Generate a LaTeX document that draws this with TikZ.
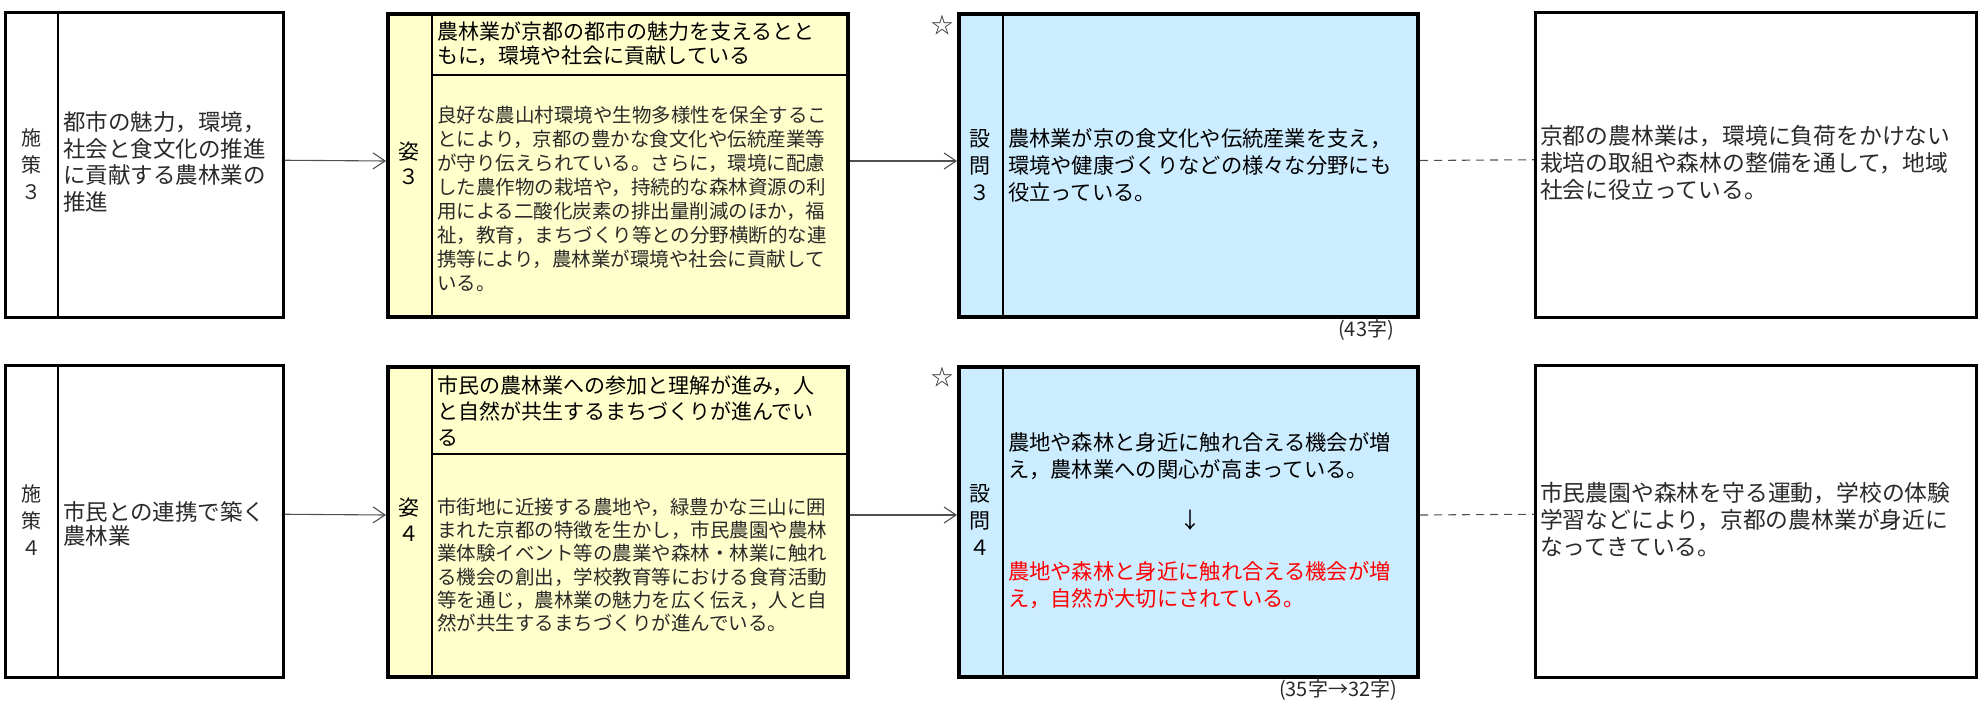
\documentclass[tikz,border=0pt]{standalone}
\usepackage{fontspec}
\setmainfont{Noto Sans CJK JP}
\usetikzlibrary{arrows.meta}
\definecolor{paleyellow}{HTML}{FFFFCC}
\definecolor{paleblue}{HTML}{CCECFF}
\definecolor{minchogray}{HTML}{2A2A2A}
\definecolor{conncol}{HTML}{505050}
\definecolor{redtext}{HTML}{FF0000}
\tikzset{
  thinbox/.style={draw=black, line width=2.5pt, inner sep=0pt, anchor=north west},
  thickbox/.style={draw=black, line width=4pt, inner sep=0pt, anchor=north west},
  divider/.style={draw=black, line width=2.5pt},
  conarrow/.style={draw=conncol, line width=1.1pt, -{Straight Barb[length=12pt,width=16pt,line width=1.1pt]}},
  condash/.style={draw=conncol, line width=1.1pt, dash pattern=on 8pt off 6pt},
  txt/.style={inner sep=0pt, outer sep=0pt, align=left, anchor=west},
  ctxt/.style={inner sep=0pt, outer sep=0pt, align=center, anchor=center},
  mincho/.style={text=minchogray},
  fs/.style 2 args={font={\fontsize{#1pt}{#2pt}\selectfont}},
}
\begin{document}
\begin{tikzpicture}[x=1pt, y=-1pt]
\useasboundingbox (0,0) rectangle (1978,704);

% ===================== Row 1 =====================
\node[thinbox, minimum width=278pt, minimum height=305pt] (pol3) at (4,11) {};
\draw[divider] ([xshift=54pt]pol3.north west) -- ([xshift=54pt]pol3.south west);
\node[ctxt, mincho, fs={20}{27}] (pol3lab) at (31,164) {施\\策\\３};
\node[txt, mincho, fs={22.5}{26.5}] (pol3txt) at (63,162) {都市の魅力，環境，\\社会と食文化の推進\\に貢献する農林業の\\推進};

\node[thickbox, fill=paleyellow, minimum width=460pt, minimum height=303pt] (vis3) at (386,12) {};
\draw[divider] ([xshift=46pt]vis3.north west) -- ([xshift=46pt]vis3.south west);
\draw[divider] ([xshift=46pt,yshift=-63pt]vis3.north west) -- ([yshift=-63pt]vis3.north east);
\node[ctxt, fs={21}{25}] (vis3lab) at (409,163) {姿\\３};
\node[txt, fs={21}{23.5}] (vis3head) at (437,43.5) {農林業が京都の都市の魅力を支えるとと\\もに，環境や社会に貢献している};
\node[txt, mincho, fs={19.5}{24}] (vis3body) at (437,199) {良好な農山村環境や生物多様性を保全するこ\\とにより，京都の豊かな食文化や伝統産業等\\が守り伝えられている。さらに，環境に配慮\\した農作物の栽培や，持続的な森林資源の利\\用による二酸化炭素の排出量削減のほか，福\\祉，教育，まちづくり等との分野横断的な連\\携等により，農林業が環境や社会に貢献して\\いる。};

\node[thickbox, fill=paleblue, minimum width=459pt, minimum height=303pt] (q3) at (957,12) {};
\draw[divider] ([xshift=46pt]q3.north west) -- ([xshift=46pt]q3.south west);
\node[ctxt, fs={21}{27}] (q3lab) at (980,165) {設\\問\\３};
\node[txt, fs={21.3}{27}] (q3txt) at (1008,165) {農林業が京の食文化や伝統産業を支え，\\環境や健康づくりなどの様々な分野にも\\役立っている。};
\node[ctxt, mincho, fs={22}{24}] (star3) at (942,25) {☆};
\node[ctxt, mincho, fs={20}{22}] (cnt3) at (1366,330) {(43字)};

\node[thinbox, minimum width=441pt, minimum height=305pt] (res3) at (1534,11) {};
\node[txt, mincho, fs={22.8}{27}] (res3txt) at (1540,163) {京都の農林業は，環境に負荷をかけない\\栽培の取組や森林の整備を通して，地域\\社会に役立っている。};

\draw[conarrow] ([yshift=4.5pt]pol3.east) -- ([yshift=4.5pt]vis3.west);
\draw[conarrow] ([yshift=4.5pt]vis3.east) -- ([yshift=4.5pt]q3.west);
\draw[condash] ([yshift=5pt]q3.east) -- ([yshift=5pt]res3.west);

% ===================== Row 2 =====================
\node[thinbox, minimum width=278pt, minimum height=312pt] (pol4) at (4,364) {};
\draw[divider] ([xshift=54pt]pol4.north west) -- ([xshift=54pt]pol4.south west);
\node[ctxt, mincho, fs={20}{27}] (pol4lab) at (31,520) {施\\策\\４};
\node[txt, mincho, fs={22.5}{24}] (pol4txt) at (63,524) {市民との連携で築く\\農林業};

\node[thickbox, fill=paleyellow, minimum width=460pt, minimum height=310pt] (vis4) at (386,365) {};
\draw[divider] ([xshift=46pt]vis4.north west) -- ([xshift=46pt]vis4.south west);
\draw[divider] ([xshift=46pt,yshift=-89pt]vis4.north west) -- ([yshift=-89pt]vis4.north east);
\node[ctxt, fs={21}{26}] (vis4lab) at (409,520) {姿\\４};
\node[txt, fs={21}{26}] (vis4head) at (437,411) {市民の農林業への参加と理解が進み，人\\と自然が共生するまちづくりが進んでい\\る};
\node[txt, mincho, fs={19.5}{23.3}] (vis4body) at (437,565) {市街地に近接する農地や，緑豊かな三山に囲\\まれた京都の特徴を生かし，市民農園や農林\\業体験イベント等の農業や森林・林業に触れ\\る機会の創出，学校教育等における食育活動\\等を通じ，農林業の魅力を広く伝え，人と自\\然が共生するまちづくりが進んでいる。};

\node[thickbox, fill=paleblue, minimum width=459pt, minimum height=310pt] (q4) at (957,365) {};
\draw[divider] ([xshift=46pt]q4.north west) -- ([xshift=46pt]q4.south west);
\node[ctxt, fs={21}{27}] (q4lab) at (980,520) {設\\問\\４};
\node[txt, fs={21.3}{27}] (q4old) at (1008,456.5) {農地や森林と身近に触れ合える機会が増\\え，農林業への関心が高まっている。};
\node[ctxt, fs={22}{24}] (q4arr) at (1190,520) {↓};
\node[txt, text=redtext, fs={21.3}{27}] (q4new) at (1008,585) {農地や森林と身近に触れ合える機会が増\\え，自然が大切にされている。};
\node[ctxt, mincho, fs={22}{24}] (star4) at (942,377) {☆};
\node[ctxt, mincho, fs={20}{22}] (cnt4) at (1338,690) {(35字→32字)};

\node[thinbox, minimum width=441pt, minimum height=312pt] (res4) at (1534,364) {};
\node[txt, mincho, fs={22.8}{27}] (res4txt) at (1540,520) {市民農園や森林を守る運動，学校の体験\\学習などにより，京都の農林業が身近に\\なってきている。};

\draw[conarrow] ([yshift=7pt]pol4.east) -- ([yshift=7pt]vis4.west);
\draw[conarrow] ([yshift=7pt]vis4.east) -- ([yshift=7pt]q4.west);
\draw[condash] ([yshift=7pt]q4.east) -- ([yshift=7pt]res4.west);
\end{tikzpicture}
\end{document}
